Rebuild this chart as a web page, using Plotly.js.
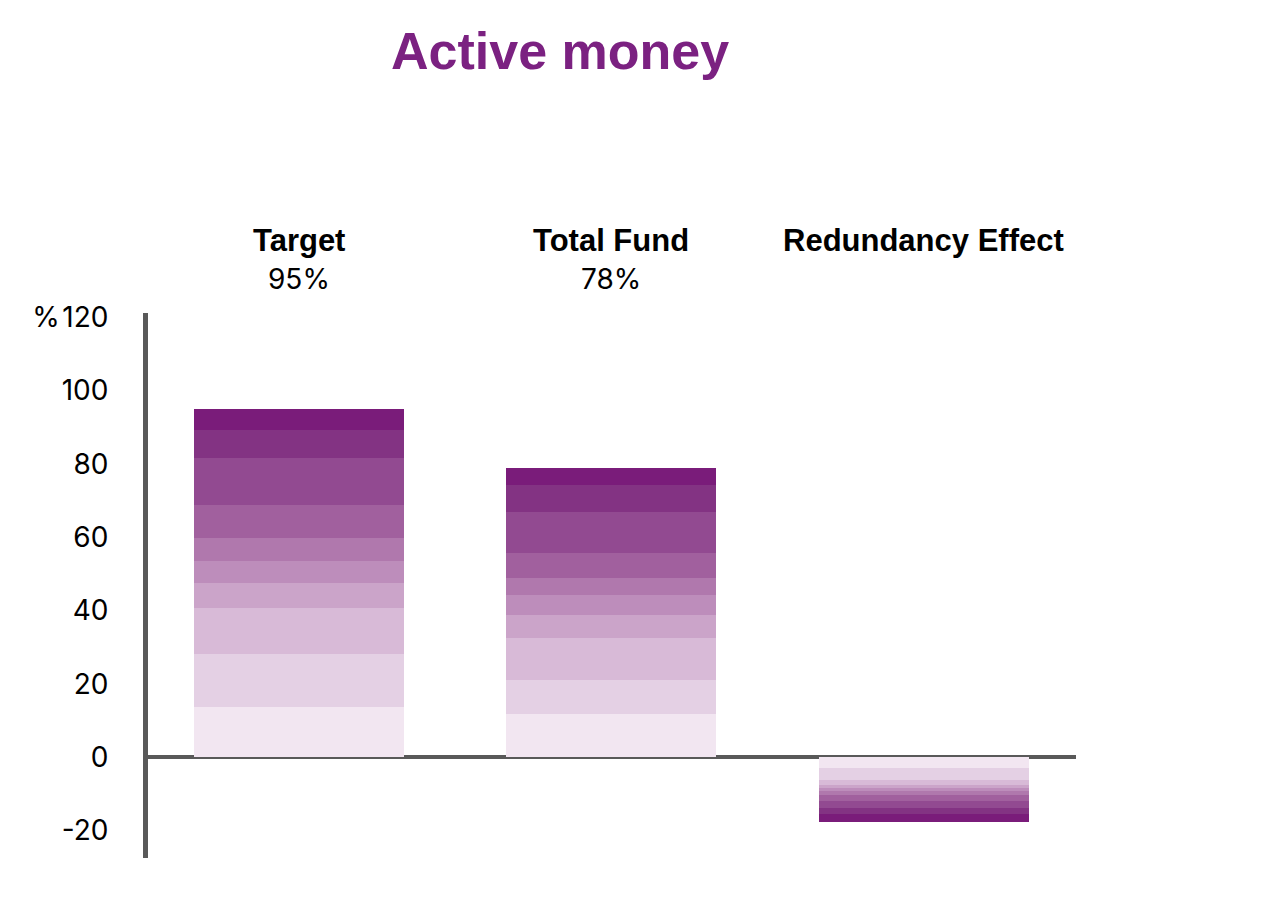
<!DOCTYPE html>
<html>
<head>
<meta charset="utf-8">
<script src="https://cdn.plot.ly/plotly-3.0.1.min.js"></script>
<style>html,body{margin:0;padding:0;background:#fff;}#chart{width:1270px;height:900px;}</style>
</head>
<body>
<div id="chart"></div>
<script>
const categories = ['Target', 'Total Fund', 'Redundancy Effect'];
const headlineValues = ['95%', '78%', ''];
const targetSegments = [13.6, 14.5, 12.5, 6.9, 6.0, 6.2, 9.0, 12.8, 7.7, 5.8];
const totalFundSegments = [11.7, 9.3, 11.5, 6.2, 5.5, 4.6, 6.8, 11.2, 7.4, 4.6];
const redundancySegments = [-2.9, -3.2, -1.4, -0.9, -0.9, -0.9, -1.8, -2.0, -1.6, -2.0];
const shades = ['#f2e6f1', '#e4d0e4', '#d8bad7', '#cba4c9', '#bd8dbb', '#b078ad', '#a1609e', '#924a91', '#833383', '#7a1c7a'];
const tickValues = [-20, 0, 20, 40, 60, 80, 100, 120];
const tickLabels = ['-20', '0', '20', '40', '60', '80', '100', '%\u200a120'];

const xIdx = categories.map((c, i) => i);
const traces = shades.map((col, k) => ({
  type: 'bar',
  x: xIdx,
  y: [targetSegments[k], totalFundSegments[k], redundancySegments[k]],
  width: 0.672,
  marker: {color: col, line: {width: 0}},
  hoverinfo: 'skip',
  showlegend: false
}));

const annotations = [];
categories.forEach((c, i) => {
  annotations.push({x: i, xref: 'x', y: 1, yref: 'paper', yanchor: 'middle', yshift: 73,
    text: '<b>' + c + '</b>', showarrow: false,
    font: {family: 'Liberation Sans, Arial, sans-serif', size: 31, color: '#000'}});
  if (headlineValues[i]) {
    annotations.push({x: i, xref: 'x', y: 1, yref: 'paper', yanchor: 'middle', yshift: 34,
      text: headlineValues[i], showarrow: false,
      font: {family: 'Inter, Liberation Sans, Arial, sans-serif', size: 28, color: '#000'}});
  }
});

const layout = {
  width: 1270, height: 900,
  margin: {l: 148, r: 1270 - 148 - 928, t: 313, b: 42, pad: 0},
  paper_bgcolor: '#fff', plot_bgcolor: '#fff',
  barmode: 'relative',
  bargap: 0,
  title: {text: '<b>Active money</b>', x: 0.441, xref: 'container', xanchor: 'center',
    y: 0.944, yref: 'container', yanchor: 'middle',
    font: {family: 'Liberation Sans, Arial, sans-serif', size: 52, color: '#7b2181'}},
  xaxis: {range: [-0.483, 2.487], showticklabels: false, showline: false, zeroline: false, showgrid: false, fixedrange: true},
  yaxis: {range: [-27.5, 121.1], tickvals: tickValues, ticktext: tickLabels,
    showline: true, linecolor: '#595959', linewidth: 5,
    zeroline: true, zerolinecolor: '#595959', zerolinewidth: 4,
    showgrid: false, ticks: '', ticklabelstandoff: 29,
    tickfont: {family: 'Inter, Liberation Sans, Arial, sans-serif', size: 28, color: '#000'}},
  annotations: annotations,
  font: {family: 'Liberation Sans, Arial, sans-serif'}
};

Plotly.newPlot('chart', traces, layout, {displayModeBar: false, staticPlot: true});
</script>
</body>
</html>
